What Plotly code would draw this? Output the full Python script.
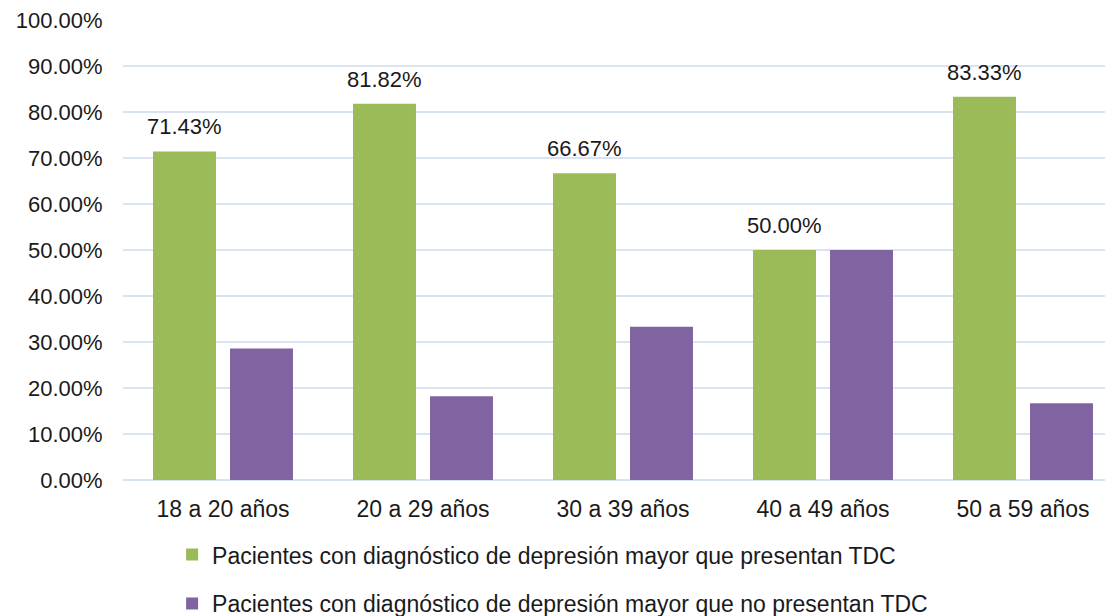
import plotly.graph_objects as go

categories = ["18 a 20 años", "20 a 29 años", "30 a 39 años", "40 a 49 años", "50 a 59 años"]
con_tdc = [71.43, 81.82, 66.67, 50.00, 83.33]
sin_tdc = [28.57, 18.18, 33.33, 50.00, 16.67]
series_names = [
    "Pacientes con diagnóstico de depresión mayor que presentan TDC",
    "Pacientes con diagnóstico de depresión mayor que no presentan TDC",
]
y_ticks = [0, 10, 20, 30, 40, 50, 60, 70, 80, 90, 100]
y_tick_labels = [f"{v:.2f}%" for v in y_ticks]

FONT = "Liberation Sans, Arial, sans-serif"
TXT = "#1a1a1a"

fig = go.Figure()
fig.add_trace(go.Bar(
    x=categories, y=con_tdc, name=series_names[0],
    marker=dict(color="#9BBB59", line=dict(width=0)),
    legendgroup="a",
))
fig.add_trace(go.Bar(
    x=categories, y=sin_tdc, name=series_names[1],
    marker=dict(color="#8064A2", line=dict(width=0)),
    legendgroup="b",
))

# data labels above the green bars
for cat, val in zip(categories, con_tdc):
    fig.add_annotation(
        x=cat, y=val, xref="x", yref="y", text=f"{val:.2f}%",
        showarrow=False, xanchor="center", yanchor="bottom",
        xshift=-38.5, yshift=10,
        font=dict(size=22, family=FONT, color=TXT),
    )

fig.update_layout(
    width=1114, height=616,
    margin=dict(l=123, r=9, t=20, b=136, autoexpand=False),
    paper_bgcolor="white", plot_bgcolor="white",
    barmode="group", bargap=0.23, bargroupgap=0.182,
    font=dict(family=FONT, size=22, color=TXT),
    showlegend=True,
    legend=dict(
        orientation="v", x=0.05, xanchor="left",
        yref="container", y=0.1345, yanchor="top",
        font=dict(size=23, family=FONT, color=TXT),
        tracegroupgap=16, itemwidth=30,
    ),
)
fig.update_xaxes(
    range=[-0.5, 4.41],
    showgrid=False, showline=False, zeroline=False, automargin=False,
    ticks="outside", ticklen=8, tickcolor="rgba(0,0,0,0)",
    tickfont=dict(size=23, family=FONT, color=TXT),
)
fig.update_yaxes(
    range=[0, 100], tickvals=y_ticks, ticktext=y_tick_labels, automargin=False,
    showgrid=True, gridcolor="#D9E3F2", gridwidth=2,
    zeroline=True, zerolinecolor="#D9E3F2", zerolinewidth=2,
    showline=False,
    ticks="outside", ticklen=15, tickcolor="rgba(0,0,0,0)",
    tickfont=dict(size=22, family=FONT, color=TXT),
)

fig.write_html("out.html")
